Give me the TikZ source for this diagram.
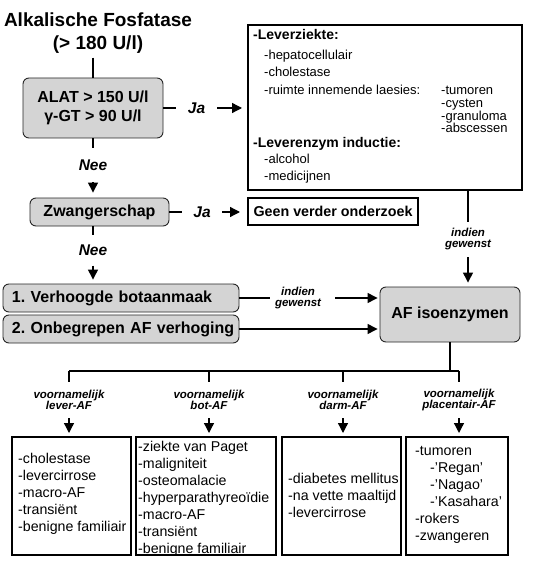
\documentclass[tikz,border=0pt]{standalone}
\usepackage{fontspec}
\setmainfont{Liberation Sans}
\usetikzlibrary{arrows.meta}
\definecolor{boxgray}{RGB}{212,212,212}
\newcommand{\fsz}[2]{\fontsize{#1}{#2}\selectfont}
\frenchspacing
\begin{document}
\begin{tikzpicture}[x=1pt,y=-1pt,
  graybox/.style={draw=black!85, line width=0.9pt, fill=boxgray, rounded corners=6pt, inner sep=0pt, font=\fsz{16}{19}\bfseries},
  outbox/.style={draw=black, line width=2pt, fill=white, inner sep=0pt},
  conn/.style={line width=1.3pt},
  arr/.style={conn, -{Triangle[length=10pt,width=10pt]}},
  lab/.style={inner sep=0pt, font=\fsz{15.5}{18}\bfseries\itshape},
  slab/.style={inner sep=0pt, align=center, font=\fsz{11.5}{11}\bfseries\itshape},
  levh/.style={inner sep=0pt, anchor=base west, font=\fsz{14}{16}\bfseries},
  levt/.style={inner sep=0pt, anchor=base west, font=\fsz{13}{15}},
  botbox/.style={outbox, minimum height=118pt},
  bottext/.style={inner sep=0pt, anchor=west, align=left, font=\fsz{14.2}{17}}
]
\useasboundingbox (0,0) rectangle (535,569);

% title and first decision
\node[inner sep=0pt, font=\fsz{19}{23}\bfseries, align=center] (title) at (98,33) {Alkalische Fosfatase\\(> 180 U/l)};
\node[graybox, minimum width=140pt, minimum height=60pt, align=center] (alat) at (93,108) {ALAT > 150 U/l\\γ-GT > 90 U/l};
\draw[conn, shorten <=4pt] (alat.north |- title.south) -- (alat.north);

% liver box
\node[outbox, minimum width=274pt, minimum height=165pt] (lev) at (385,107.5) {};
\node[levh] (lt1) at (253,40) {-Leverziekte:};
\node[levt] (lt2) at (264,59.5) {-hepatocellulair};
\node[levt] (lt3) at (264,76.5) {-cholestase};
\node[levt] (lt4) at (264,94.5) {-ruimte innemende laesies:};
\node[levt] (lt5) at (441,94.5) {-tumoren};
\node[levt] (lt6) at (441,107.3) {-cysten};
\node[levt] (lt7) at (441,120.1) {-granuloma};
\node[levt] (lt8) at (441,132.9) {-abscessen};
\node[levh] (lt9) at (253,148) {-Leverenzym inductie:};
\node[levt] (lt10) at (264,163.5) {-alcohol};
\node[levt] (lt11) at (264,180.5) {-medicijnen};

% Ja 1
\node[lab, minimum width=41pt] (ja1) at (196.5,108) {Ja};
\draw[conn] (alat.east) -- (ja1.west);
\draw[arr, shorten >=5pt] (ja1.east) -- (ja1.east -| lev.west);

% Nee 1
\node[lab, minimum height=34pt] (nee1) at (93,165) {Nee};
\draw[conn] (alat.south) -- (nee1.north);

% pregnancy
\node[graybox, minimum width=139pt, minimum height=28pt] (zw) at (99.5,212) {Zwangerschap};
\draw[arr, shorten >=5pt] (nee1.south) -- (nee1.south |- zw.north);

\node[outbox, minimum width=170pt, minimum height=27pt, font=\fsz{14.3}{17}\bfseries] (geen) at (333,211.5) {Geen verder onderzoek};
\node[lab, minimum width=40pt] (ja2) at (202,212) {Ja};
\draw[conn] (zw.east) -- (ja2.west);
\draw[arr, shorten >=7pt] (ja2.east) -- (ja2.east -| geen.west);

\node[lab, minimum height=30pt] (nee2) at (93,250.5) {Nee};
\draw[conn] (nee2.north |- zw.south) -- (nee2.north);

% causes
\node[graybox, minimum width=236pt, minimum height=28pt, text width=218pt, inner xsep=9pt, align=left] (b1) at (121,298) {\mbox{1. Verhoogde botaanmaak}};
\node[graybox, minimum width=236pt, minimum height=28pt, text width=218pt, inner xsep=9pt, align=left] (b2) at (121,329) {\mbox{2. Onbegrepen AF verhoging}};
\draw[arr, shorten >=4pt] (nee2.south) -- (nee2.south |- b1.north);

% isoenzymes
\node[graybox, minimum width=140pt, minimum height=55pt] (af) at (450,314.5) {AF isoenzymen};

\node[slab, minimum width=56pt] (ig1) at (298,298.5) {indien\\gewenst};
\draw[conn] (b1.east) -- (b1.east -| ig1.west);
\draw[arr, shorten <=9pt, shorten >=2pt] (b1.east -| ig1.east) -- (b1.east -| af.west);
\draw[arr, shorten >=2pt] (b2.east) -- (b2.east -| af.west);

\node[slab, minimum height=35pt] (ig2) at (468,239.5) {indien\\gewenst};
\draw[conn] (ig2.north |- lev.south) -- (ig2.north);
\draw[arr, shorten >=4pt] (ig2.south) -- (ig2.south |- af.north);

% branching
\coordinate (j1) at (69,371);
\coordinate (j2) at (209,371);
\coordinate (j3) at (343,371);
\coordinate (j4) at (459,371);
\draw[conn] (af.south) -- (af.south |- j4);
\draw[conn] (j1) -- (j4);

\node[botbox, minimum width=119pt] (bA) at (71.5,496) {};
\node[botbox, minimum width=140pt] (bB) at (206,496) {};
\node[botbox, minimum width=119pt] (bC) at (341.5,496) {};
\node[botbox, minimum width=102pt] (bD) at (457,496) {};

\node[bottext] (tA) at (18,494)
  {-cholestase\\-levercirrose\\-macro-AF\\-transiënt\\-benigne familiair};
\node[bottext] (tB) at (138,499)
  {-ziekte van Paget\\-maligniteit\\-osteomalacie\\-hyperparathyreoïdie\\-macro-AF\\-transiënt\\-benigne familiair};
\node[bottext] (tC) at (288,495)
  {-diabetes mellitus\\-na vette maaltijd\\-levercirrose};
\node[bottext] (tD) at (415,495)
  {-tumoren\\\hspace*{15pt}-'Regan'\\\hspace*{15pt}-'Nagao'\\\hspace*{15pt}-'Kasahara'\\-rokers\\-zwangeren};

\node[slab, minimum height=36pt] (v1) at (69,400) {voornamelijk\\lever-AF};
\node[slab, minimum height=36pt] (v2) at (209,400) {voornamelijk\\bot-AF};
\node[slab, minimum height=36pt] (v3) at (343,400) {voornamelijk\\darm-AF};
\node[slab, minimum height=36pt] (v4) at (459,400) {voornamelijk\\placentair-AF};

\foreach \i/\b in {1/bA,2/bB,3/bC,4/bD}{
  \draw[conn] (j\i) -- (v\i.north);
  \draw[arr, shorten >=3pt] (v\i.south) -- (v\i.south |- \b.north);
}
\end{tikzpicture}
\end{document}
